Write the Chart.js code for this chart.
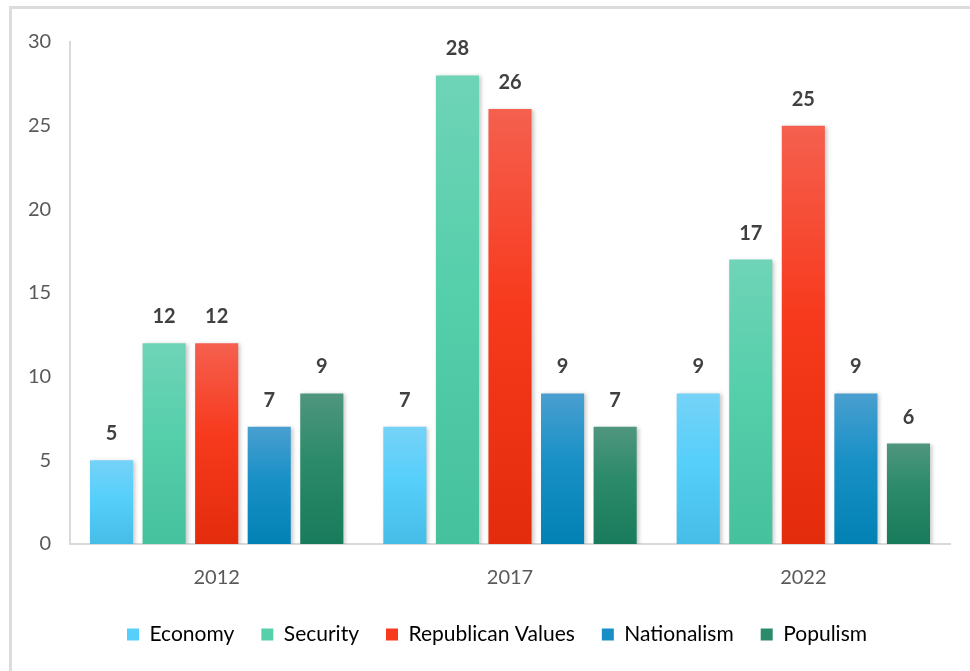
<!DOCTYPE html>
<html>
<head>
<meta charset="utf-8">
<script src="https://cdn.jsdelivr.net/npm/chart.js@4.4.1/dist/chart.umd.min.js"></script>
<style>
  html, body { margin: 0; padding: 0; background: #ffffff; overflow: hidden; }
  #wrap { position: relative; width: 970px; height: 671px; }
  #frame {
    position: absolute; left: 9px; top: 6px; width: 1000px; height: 700px;
    border-left: 3px solid #dcdcdc; border-top: 3px solid #dcdcdc;
  }
  canvas { position: absolute; left: 0; top: 0; }
</style>
</head>
<body>
<div id="wrap">
  <div id="frame"></div>
  <canvas id="chart" width="970" height="671"></canvas>
</div>
<script>
// Election years on the x axis
const years = ['2012', '2017', '2022'];

// Themes and their counts per year
const economy = [5, 7, 9];
const security = [12, 28, 17];
const republicanValues = [12, 26, 25];
const nationalism = [7, 9, 9];
const populism = [9, 7, 6];

// Y axis ticks
const yTicks = [0, 5, 10, 15, 20, 25, 30];

// Gradient stops (top, middle, bottom) for each theme
const palette = {
  'Economy':            ['#76d2f7', '#56cffb', '#45bde7'],
  'Security':           ['#6fd4b7', '#56cfab', '#46c19d'],
  'Republican Values':  ['#f5604f', '#f73a1d', '#e32c0b'],
  'Nationalism':        ['#4a9fd0', '#1890c6', '#0281b5'],
  'Populism':           ['#4f967e', '#2b8a69', '#187b5b']
};

function barGradient(name) {
  const stops = palette[name];
  return function (ctx) {
    const chart = ctx.chart;
    if (!chart.chartArea || ctx.type !== 'data') return stops[1];
    const y = chart.scales.y;
    const top = y.getPixelForValue(ctx.raw);
    const bottom = y.getPixelForValue(0);
    if (!isFinite(top) || top === bottom) return stops[1];
    const g = chart.ctx.createLinearGradient(0, top, 0, bottom);
    g.addColorStop(0, stops[0]);
    g.addColorStop(0.45, stops[1]);
    g.addColorStop(1, stops[2]);
    return g;
  };
}

function series(label, data) {
  return {
    label: label,
    data: data,
    backgroundColor: barGradient(label),
    borderWidth: 0
  };
}

// Soft drop shadow behind the bars
const barShadow = {
  id: 'barShadow',
  beforeDatasetsDraw(chart) {
    const c = chart.ctx;
    c.save();
    c.shadowColor = 'rgba(0,0,0,0.22)';
    c.shadowBlur = 4;
    c.shadowOffsetX = 2;
    c.shadowOffsetY = 1;
  },
  afterDatasetsDraw(chart) {
    chart.ctx.restore();
  }
};

// Value labels above each bar
const valueLabels = {
  id: 'valueLabels',
  afterDatasetsDraw(chart) {
    const c = chart.ctx;
    c.save();
    c.font = 'bold 20px Lato, "Open Sans", sans-serif';
    c.fillStyle = '#404040';
    c.textAlign = 'center';
    c.textBaseline = 'alphabetic';
    chart.data.datasets.forEach((ds, i) => {
      const meta = chart.getDatasetMeta(i);
      if (meta.hidden) return;
      meta.data.forEach((bar, j) => {
        c.fillText(String(ds.data[j]), bar.x, bar.y - 20);
      });
    });
    c.restore();
  }
};

const tickFont = { family: 'Lato, "Open Sans", sans-serif', size: 20 };

new Chart(document.getElementById('chart'), {
  type: 'bar',
  data: {
    labels: years,
    datasets: [
      series('Economy', economy),
      series('Security', security),
      series('Republican Values', republicanValues),
      series('Nationalism', nationalism),
      series('Populism', populism)
    ]
  },
  options: {
    responsive: false,
    animation: false,
    devicePixelRatio: 1,
    datasets: {
      bar: { categoryPercentage: 0.896, barPercentage: 0.82 }
    },
    layout: { padding: { left: 44, right: 20, top: 42, bottom: 16 } },
    scales: {
      x: {
        afterFit(scale) { scale.height -= 7; },
        grid: { display: false },
        border: { display: true, color: '#d9d9d9', width: 2 },
        ticks: { color: '#595959', font: tickFont, padding: 14 }
      },
      y: {
        min: 0,
        max: 30,
        afterBuildTicks(scale) {
          scale.ticks = yTicks.map(v => ({ value: v }));
        },
        afterFit(scale) { scale.width = 26; },
        grid: { display: false },
        border: { display: true, color: '#d9d9d9', width: 2 },
        // labels sit to the left of the axis, right-aligned
        ticks: {
          color: '#595959', font: tickFont,
          mirror: true, crossAlign: 'far', padding: -42
        }
      }
    },
    plugins: {
      legend: {
        position: 'bottom',
        labels: {
          boxWidth: 12,
          boxHeight: 12,
          padding: 27,
          color: '#595959',
          font: { family: 'Lato, "Open Sans", sans-serif', size: 21 },
          generateLabels(chart) {
            return chart.data.datasets.map((ds, i) => ({
              text: ds.label,
              fillStyle: palette[ds.label][1],
              strokeStyle: palette[ds.label][1],
              lineWidth: 0,
              hidden: false,
              datasetIndex: i
            }));
          }
        }
      },
      tooltip: { enabled: false }
    }
  },
  plugins: [barShadow, valueLabels]
});
</script>
</body>
</html>
